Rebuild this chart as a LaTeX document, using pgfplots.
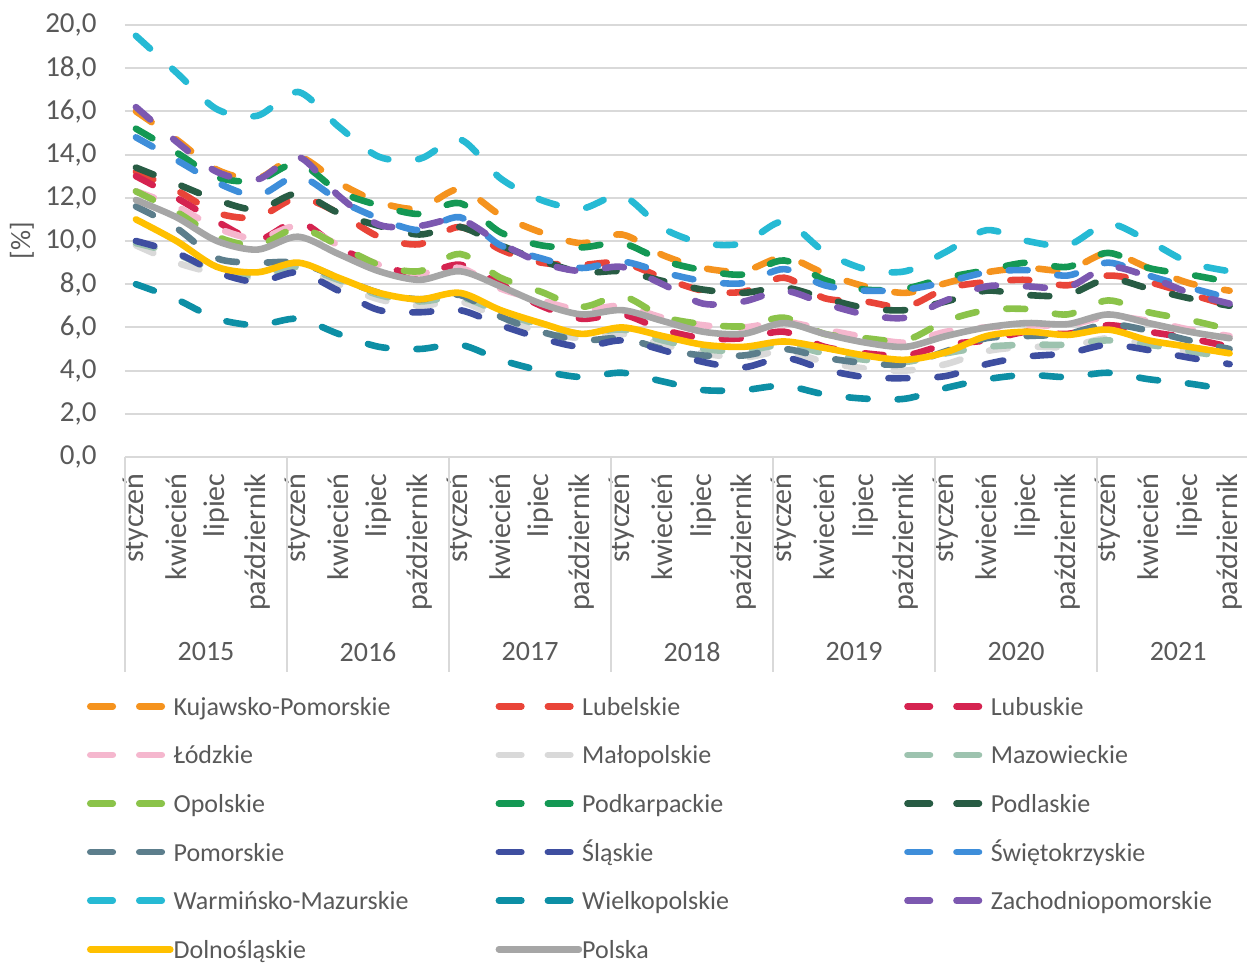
\documentclass[border=0pt]{standalone}
\usepackage{fontspec}
\setmainfont{Carlito}
\usepackage{pgfplots}
\usepackage{pgfplotstable}
\pgfplotsset{compat=1.18}

\definecolor{cKP}{RGB}{245,147,30}
\definecolor{cLBE}{RGB}{233,68,56}
\definecolor{cLBU}{RGB}{213,35,80}
\definecolor{cLOD}{RGB}{245,183,206}
\definecolor{cMAL}{RGB}{217,217,217}
\definecolor{cMAZ}{RGB}{157,195,175}
\definecolor{cOPO}{RGB}{139,195,74}
\definecolor{cPKR}{RGB}{20,152,84}
\definecolor{cPDL}{RGB}{40,92,68}
\definecolor{cPOM}{RGB}{92,126,140}
\definecolor{cSLA}{RGB}{62,78,160}
\definecolor{cSWI}{RGB}{62,142,218}
\definecolor{cWM}{RGB}{38,186,212}
\definecolor{cWLK}{RGB}{13,143,165}
\definecolor{cZP}{RGB}{124,88,176}
\definecolor{cDOL}{RGB}{255,192,0}
\definecolor{cPL}{RGB}{166,166,166}
\definecolor{gridgray}{RGB}{217,217,217}
\definecolor{textgray}{RGB}{89,89,89}

\pgfplotstableread{
x KP LBE LBU LOD MAL MAZ OPO PKR PDL POM SLA SWI WM WLK ZP DOL PL
0 16.0 13.2 13.0 12.3 9.8 9.9 12.3 15.2 13.4 11.6 10.0 14.8 19.5 8.0 16.2 11.0 11.9
1 14.7 12.35 12.0 11.6 9.0 9.4 11.35 14.1 12.65 10.6 9.45 13.75 17.8 7.3 14.6 10.0 11.1
2 13.3 11.3 10.9 10.6 8.5 8.6 10.2 12.95 11.9 9.2 8.55 12.7 16.1 6.4 13.2 8.8 10.0
3 12.9 11.1 10.05 10.1 8.3 8.4 9.8 12.8 11.45 9.0 8.1 12.1 15.8 6.1 12.85 8.55 9.6
4 13.9 12.0 10.9 10.7 8.8 8.8 10.6 13.6 12.2 9.0 8.55 13.0 16.9 6.4 13.9 9.0 10.2
5 12.7 11.3 9.7 9.8 8.0 8.2 9.8 12.3 11.3 8.3 7.7 11.9 15.3 5.7 12.1 8.3 9.4
6 11.8 10.2 8.9 8.9 7.3 7.5 8.9 11.65 10.7 7.6 6.8 11.05 13.9 5.1 10.75 7.6 8.6
7 11.5 9.85 8.45 8.5 7.0 7.2 8.6 11.25 10.3 7.3 6.7 10.5 13.8 5.0 10.7 7.3 8.2
8 12.4 10.65 8.9 8.75 7.2 7.4 9.4 11.75 10.65 7.5 6.8 11.1 14.7 5.2 11.0 7.6 8.6
9 11.2 9.6 8.0 7.8 6.4 6.7 8.3 10.4 9.8 6.5 6.1 9.8 12.9 4.5 9.9 6.8 7.9
10 10.4 9.0 7.0 7.25 5.8 6.1 7.65 9.8 9.1 5.8 5.5 9.2 11.9 4.0 9.0 6.2 7.1
11 9.9 8.9 6.4 6.8 5.5 5.7 6.95 9.7 8.55 5.4 5.1 8.75 11.5 3.7 8.6 5.7 6.6
12 10.3 9.0 6.6 7.0 5.7 5.9 7.45 9.9 8.6 5.5 5.4 9.05 12.1 3.9 8.8 6.0 6.8
13 9.35 8.3 5.9 6.45 5.2 5.4 6.5 9.1 8.15 5.0 4.95 8.55 10.6 3.5 8.0 5.6 6.3
14 8.75 7.7 5.5 6.1 4.8 5.0 6.15 8.65 7.75 4.7 4.4 8.15 9.9 3.1 7.1 5.2 5.8
15 8.6 7.65 5.5 6.0 4.6 4.9 6.05 8.45 7.6 4.7 4.15 8.05 9.9 3.1 7.2 5.1 5.7
16 9.25 8.3 5.8 6.25 4.9 5.2 6.45 9.1 7.85 5.0 4.6 8.7 10.9 3.3 7.7 5.35 6.2
17 8.5 7.35 5.1 5.9 4.4 4.8 5.7 8.2 7.35 4.6 4.05 7.95 9.5 2.9 7.1 5.05 5.7
18 7.9 7.2 4.8 5.55 4.1 4.5 5.5 7.75 6.9 4.35 3.7 7.7 8.7 2.7 6.6 4.7 5.3
19 7.6 6.95 4.7 5.3 4.0 4.4 5.4 7.8 6.8 4.3 3.65 7.75 8.6 2.7 6.45 4.5 5.1
20 8.05 7.8 5.2 5.8 4.3 4.8 6.3 8.3 7.2 4.9 3.75 8.1 9.5 3.2 7.25 4.85 5.6
21 8.55 8.1 5.4 6.0 4.9 5.1 6.8 8.65 7.7 5.5 4.3 8.55 10.5 3.6 7.9 5.6 6.0
22 8.75 8.2 5.8 6.1 5.1 5.2 6.85 9.0 7.5 5.6 4.65 8.65 10.0 3.8 7.9 5.8 6.2
23 8.65 7.95 5.7 6.1 5.1 5.2 6.6 8.8 7.5 5.7 4.8 8.4 9.8 3.7 7.85 5.65 6.15
24 9.45 8.4 6.1 6.5 5.5 5.4 7.25 9.45 8.25 6.15 5.2 9.0 10.8 3.9 8.8 5.9 6.6
25 8.75 8.1 5.8 6.3 5.2 5.2 6.7 8.75 7.8 5.85 4.95 8.4 10.0 3.6 8.35 5.4 6.2
26 8.05 7.55 5.5 5.9 4.9 4.9 6.35 8.45 7.35 5.4 4.6 7.85 9.0 3.4 7.6 5.1 5.8
27 7.7 7.0 5.1 5.6 4.6 4.6 5.9 8.1 7.0 5.0 4.3 7.35 8.6 3.1 7.1 4.8 5.5
}\datatable

\pgfplotsset{
  dashser/.style={line width=3.3pt, line cap=round, dash pattern=on 9.5pt off 15pt, smooth, color=#1},
  solidser/.style={line width=3.3pt, line cap=round, smooth, color=#1},
}

\begin{document}
\begin{tikzpicture}
\useasboundingbox (-62.5pt,-255pt) rectangle (561pt,228.5pt);
\begin{axis}[
  at={(0pt,0pt)}, anchor=south west,
  scale only axis, width=561pt, height=216pt,
  xmin=-0.27, xmax=27.43, ymin=0, ymax=20,
  clip=false,
  axis line style={draw=none},
  major tick length=0pt,
  ymajorgrids, grid style={line width=1pt, color=gridgray},
  ytick={0,2,...,20},
  xtick={0,...,27},
  xticklabels={styczeń,kwiecień,lipiec,październik,styczeń,kwiecień,lipiec,październik,styczeń,kwiecień,lipiec,październik,styczeń,kwiecień,lipiec,październik,styczeń,kwiecień,lipiec,październik,styczeń,kwiecień,lipiec,październik,styczeń,kwiecień,lipiec,październik},
  /pgf/number format/assume math mode=true,
  yticklabel={\pgfmathprintnumber[fixed,fixed zerofill,precision=1,use comma]{\tick}},
  tick label style={text=textgray},
  xticklabel style={font=\fontsize{15}{17}\selectfont, yshift=-8pt, rotate=90, anchor=east, inner sep=0pt},
  yticklabel style={font=\fontsize{14.5}{17}\selectfont, anchor=east, inner sep=0pt, xshift=-14pt},
  legend columns=3,
  legend cell align=left,
  legend style={at={(axis description cs:0,0)}, anchor=north west, xshift=-19pt, yshift=-112.5pt,
    draw=none, fill=none, inner sep=0pt, outer sep=0pt, column sep=0pt, row sep=0pt,
    font=\fontsize{13}{15}\selectfont, text=textgray,
    nodes={inner sep=0pt, text width=161pt, text height=11pt, text depth=2pt, minimum height=24.3pt}},
  legend image code/.code={\draw[#1] (1.75pt,0pt) -- (38.25pt,0pt); \path (0pt,0pt) -- (40pt,0pt);},
]
\addplot[dashser=cKP] table[x=x,y=KP] {\datatable};
\addlegendentry{Kujawsko-Pomorskie}
\addplot[dashser=cLBE] table[x=x,y=LBE] {\datatable};
\addlegendentry{Lubelskie}
\addplot[dashser=cLBU] table[x=x,y=LBU] {\datatable};
\addlegendentry{Lubuskie}
\addplot[dashser=cLOD] table[x=x,y=LOD] {\datatable};
\addlegendentry{Łódzkie}
\addplot[dashser=cMAL] table[x=x,y=MAL] {\datatable};
\addlegendentry{Małopolskie}
\addplot[dashser=cMAZ] table[x=x,y=MAZ] {\datatable};
\addlegendentry{Mazowieckie}
\addplot[dashser=cOPO] table[x=x,y=OPO] {\datatable};
\addlegendentry{Opolskie}
\addplot[dashser=cPKR] table[x=x,y=PKR] {\datatable};
\addlegendentry{Podkarpackie}
\addplot[dashser=cPDL] table[x=x,y=PDL] {\datatable};
\addlegendentry{Podlaskie}
\addplot[dashser=cPOM] table[x=x,y=POM] {\datatable};
\addlegendentry{Pomorskie}
\addplot[dashser=cSLA] table[x=x,y=SLA] {\datatable};
\addlegendentry{Śląskie}
\addplot[dashser=cSWI] table[x=x,y=SWI] {\datatable};
\addlegendentry{Świętokrzyskie}
\addplot[dashser=cWM] table[x=x,y=WM] {\datatable};
\addlegendentry{Warmińsko-Mazurskie}
\addplot[dashser=cWLK] table[x=x,y=WLK] {\datatable};
\addlegendentry{Wielkopolskie}
\addplot[dashser=cZP] table[x=x,y=ZP] {\datatable};
\addlegendentry{Zachodniopomorskie}
\addplot[solidser=cDOL] table[x=x,y=DOL] {\datatable};
\addlegendentry{Dolnośląskie}
\addplot[solidser=cPL] table[x=x,y=PL] {\datatable};
\addlegendentry{Polska}

\draw[gridgray, line width=1pt] (axis cs:-0.27,0) -- ++(0pt,-107.5pt);
\draw[gridgray, line width=1pt] (axis cs:3.73,0) -- ++(0pt,-107.5pt);
\draw[gridgray, line width=1pt] (axis cs:7.73,0) -- ++(0pt,-107.5pt);
\draw[gridgray, line width=1pt] (axis cs:11.73,0) -- ++(0pt,-107.5pt);
\draw[gridgray, line width=1pt] (axis cs:15.73,0) -- ++(0pt,-107.5pt);
\draw[gridgray, line width=1pt] (axis cs:19.73,0) -- ++(0pt,-107.5pt);
\draw[gridgray, line width=1pt] (axis cs:23.73,0) -- ++(0pt,-107.5pt);

\node[font=\fontsize{14}{16}\selectfont, text=textgray] at ([yshift=-97.5pt]axis cs:1.73,0) {2015};
\node[font=\fontsize{14}{16}\selectfont, text=textgray] at ([yshift=-97.5pt]axis cs:5.73,0) {2016};
\node[font=\fontsize{14}{16}\selectfont, text=textgray] at ([yshift=-97.5pt]axis cs:9.73,0) {2017};
\node[font=\fontsize{14}{16}\selectfont, text=textgray] at ([yshift=-97.5pt]axis cs:13.73,0) {2018};
\node[font=\fontsize{14}{16}\selectfont, text=textgray] at ([yshift=-97.5pt]axis cs:17.73,0) {2019};
\node[font=\fontsize{14}{16}\selectfont, text=textgray] at ([yshift=-97.5pt]axis cs:21.73,0) {2020};
\node[font=\fontsize{14}{16}\selectfont, text=textgray] at ([yshift=-97.5pt]axis cs:25.73,0) {2021};

\node[rotate=90, font=\fontsize{14}{16}\selectfont, text=textgray] at ([xshift=-51.5pt]axis description cs:0,0.5) {[\%]};
\end{axis}
\end{tikzpicture}
\end{document}
